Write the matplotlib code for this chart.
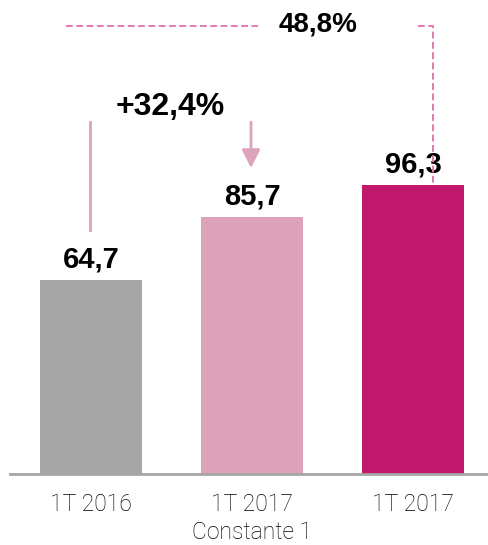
import matplotlib
matplotlib.use("Agg")
import matplotlib.pyplot as plt

categories = ["1T 2016", "1T 2017\nConstante 1", "1T 2017"]
values = [64.7, 85.7, 96.3]
value_labels = ["64,7", "85,7", "96,3"]
colors = ["#a6a6a6", "#dca3bb", "#c0186b"]
growth_constant = "+32,4%"
growth_total = "48,8%"

fig = plt.figure(figsize=(4.88, 5.45), dpi=100)
ax = fig.add_axes([10/488, (545-474)/545, 478/488, 474/545])
x = list(range(len(values)))
ax.bar(x, values, width=0.634, color=colors, zorder=2)
ax.set_xlim(-0.503, 2.466)
ax.set_ylim(0, 158)

for s in ["top", "right", "left"]:
    ax.spines[s].set_visible(False)
ax.spines["bottom"].set_color("#a6a6a6")
ax.spines["bottom"].set_linewidth(2)
ax.set_yticks([])
ax.set_xticks(x)
ax.set_xticklabels(categories, fontsize=16.5, fontfamily="Roboto", fontweight="light",
                   color="#000000", linespacing=1.27)
ax.tick_params(axis="x", length=0, pad=14)

for xi, v, lab in zip(x, values, value_labels):
    ax.text(xi, v + 4.2, lab, ha="center", va="baseline", fontsize=21,
            fontweight="bold", fontfamily="Liberation Sans", color="black")

# +32,4% annotation
ax.plot([-0.006, -0.006], [81.3, 117.3], color="#dca3bb", lw=2, zorder=3)
ax.annotate("", xy=(0.994, 102), xytext=(0.994, 117.3),
            arrowprops=dict(arrowstyle="-|>,head_length=1.1,head_width=0.55",
                            color="#dca3bb", lw=2, shrinkA=0, shrinkB=0))
ax.text(0.49, 122.3, growth_constant, ha="center", va="center", fontsize=23,
        fontweight="bold", fontfamily="Liberation Sans", color="black")

# 48,8% annotation
dash = dict(color="#e07aaf", lw=1.4, linestyle=(0, (3.5, 1.8)), zorder=3)
ax.plot([-0.155, 1.037], [149.3, 149.3], **dash)
ax.plot([2.03, 2.124, 2.124], [149.3, 149.3, 96.3], **dash)
ax.text(1.41, 149.7, growth_total, ha="center", va="center", fontsize=20,
        fontweight="bold", fontfamily="Liberation Sans", color="black")

fig.savefig("out.png", dpi=100)
